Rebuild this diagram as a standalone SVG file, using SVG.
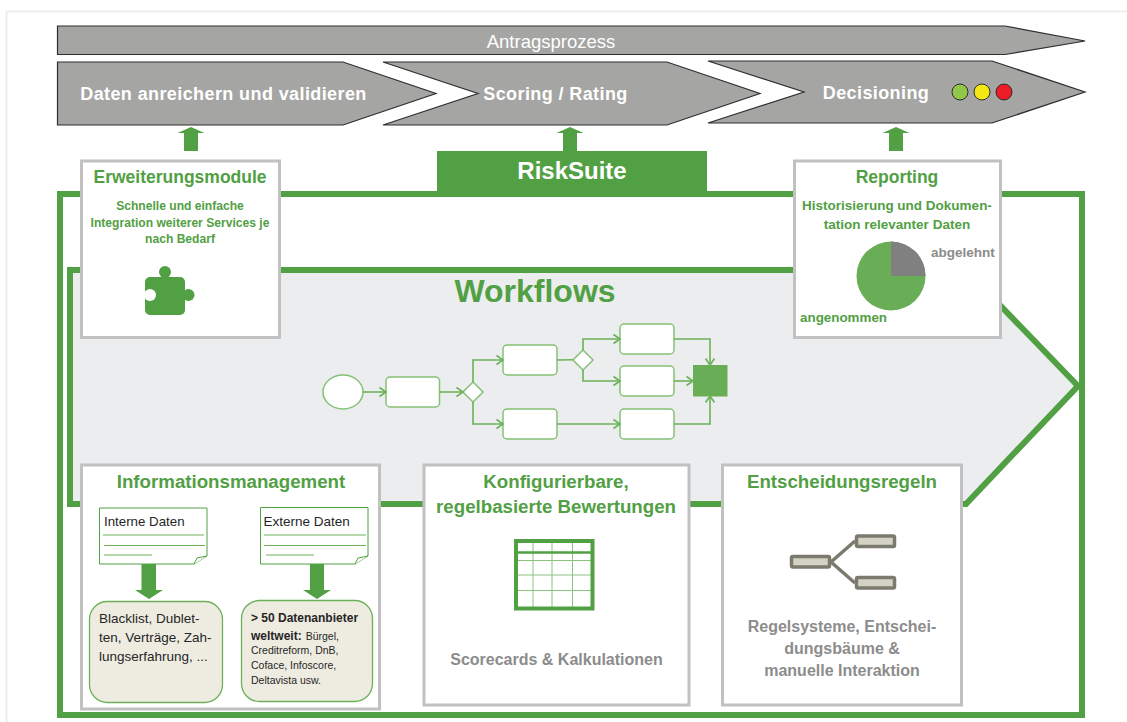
<svg xmlns="http://www.w3.org/2000/svg" width="1127" height="722" viewBox="0 0 1127 722">
<style>
text{font-family:"Liberation Sans",Arial,sans-serif}
.b{font-weight:bold}
.m{text-anchor:middle}
.g{fill:#52a044}
.gy{fill:#8c8c8c}
.chev{fill:#a5a5a3;stroke:#2e2e2e;stroke-width:1.2}
.w{fill:#fff}
.card{fill:#fff;stroke:#c1c1c1;stroke-width:3}
.t{font-size:17.5px;font-weight:bold;fill:#52a044;text-anchor:middle}
.t2{font-size:18.7px;font-weight:bold;fill:#52a044;text-anchor:middle}
.s{font-size:12.1px;font-weight:bold;fill:#52a044;text-anchor:middle}
.n{fill:#fff;stroke:#86c076;stroke-width:1.5}
.c{fill:none;stroke:#6cb15a;stroke-width:1.6}
.doc{fill:#fff;stroke:#52a044;stroke-width:1}
.dl{stroke:#6cb15a;stroke-width:1.2}
.box{fill:#eeece1;stroke:#6cb15a;stroke-width:1.3}
.tx{fill:#262626}
.tr{fill:#d4d2c5;stroke:#7b7a6f;stroke-width:3.5}
.tb{stroke:#8cc27e;stroke-width:1}
</style>
<defs>
<marker id="o" markerUnits="userSpaceOnUse" markerWidth="10" markerHeight="12" refX="8" refY="6" orient="auto"><path d="M1.5 1.5L8 6L1.5 10.500" fill="none" stroke="#6cb15a" stroke-width="1.600"/></marker>
<path id="up" d="M-13.500 6L0 0L13.500 6L7 6L7 24L-7 24L-7 6Z" fill="#52a044"/>
</defs>
<path d="M1127 11.500H6.500V722" fill="none" stroke="#eeeeee" stroke-width="2"/>

<g id="antragsprozess"><path class="chev" d="M57.500 26H1005L1085 41L1005 54.500H57.500Z"/><text x="551" y="48" class="m w" font-size="18.500">Antragsprozess</text></g>
<g id="daten"><path class="chev" d="M57.500 62H343L436 93.500L343 125H57.500Z"/><text x="223.500" y="100" class="b m w" font-size="18" letter-spacing="0.400">Daten anreichern und validieren</text></g>
<g id="scoring"><path class="chev" d="M383 62H667L760 93.500L667 125H383L478 93.500Z"/><text x="555.500" y="100" class="b m w" font-size="18" letter-spacing="0.400">Scoring / Rating</text></g>
<g id="decisioning"><path class="chev" d="M708 61H992L1085 92L992 123H708L804 92Z"/><text x="876" y="98.500" class="b m w" font-size="18" letter-spacing="0.400">Decisioning</text>
<circle cx="960" cy="92" r="8" fill="#92c74a" stroke="#2e2e2e"/><circle cx="982" cy="92" r="8" fill="#f5e812" stroke="#2e2e2e"/><circle cx="1004" cy="92" r="8" fill="#ee1c25" stroke="#2e2e2e"/></g>

<g id="frame"><rect x="60" y="194" width="1022" height="521" fill="#fff" stroke="#52a044" stroke-width="6"/>
<rect x="437" y="151" width="270" height="44" fill="#52a044"/><text x="572" y="179" class="b m w" font-size="24">RiskSuite</text></g>

<g id="workflows"><path d="M70 270H966L1078 386L966 504H70Z" fill="#ecedef" stroke="#52a044" stroke-width="6"/>
<text x="535" y="302" class="b m g" font-size="32">Workflows</text></g>

<g id="start"><ellipse class="n" cx="343" cy="392" rx="20" ry="17"/></g>
<g id="task1"><rect class="n" x="386" y="377" width="53.500" height="30" rx="4"/></g>
<g id="gate1"><path class="n" d="M473 382L483 392L473 402L463 392Z"/></g>
<g id="task2"><rect class="n" x="503" y="345" width="54" height="30" rx="4"/></g>
<g id="task3"><rect class="n" x="503" y="409" width="54" height="30" rx="4"/></g>
<g id="gate2"><path class="n" d="M583 350L593 360L583 370L573 360Z"/></g>
<g id="task4"><rect class="n" x="620" y="324" width="54" height="30" rx="4"/></g>
<g id="task5"><rect class="n" x="620" y="366" width="54" height="30" rx="4"/></g>
<g id="task6"><rect class="n" x="620" y="409" width="54" height="30" rx="4"/></g>
<g id="end"><rect x="693" y="365" width="34.500" height="31.500" fill="#6aad57"/></g>

<g id="erweiterungsmodule"><rect class="card" x="81.500" y="161" width="198" height="176.500"/>
<text x="180" y="183" class="t">Erweiterungsmodule</text>
<text x="180" y="210" class="s">Schnelle und einfache</text><text x="180" y="227" class="s">Integration weiterer Services je</text><text x="180" y="243" class="s">nach Bedarf</text>
<rect class="g" x="145" y="277" width="40" height="38" rx="5"/><circle class="g" cx="165" cy="272" r="6"/><circle class="g" cx="188.500" cy="295" r="6"/><circle class="w" cx="150" cy="295" r="6"/></g>

<g id="reporting"><rect class="card" x="794.500" y="161" width="206" height="176.500"/>
<text x="897" y="183" class="t">Reporting</text>
<text x="897" y="210" font-size="13.500" class="b m g">Historisierung und Dokumen-</text><text x="897" y="229" font-size="13.500" class="b m g">tation relevanter Daten</text>
<circle cx="891" cy="276" r="34.500" fill="#6aad57"/><path d="M891 276V241.500A34.500 34.500 0 0 1 925.500 276Z" fill="#808080"/>
<text x="931" y="257" class="b gy" font-size="13.500">abgelehnt</text><text x="800" y="322" class="b g" font-size="13.400">angenommen</text></g>

<g id="informationsmanagement"><rect class="card" x="81.500" y="465" width="298" height="244"/>
<text x="231" y="488" class="t2">Informationsmanagement</text>
<path class="doc" d="M99.500 508H207V556L194 564H99.500Z"/><path class="doc" d="M194 564L197 558L207 556"/>
<text x="104" y="526" class="tx" font-size="13.300">Interne Daten</text>
<path class="dl" d="M103 535H204M104 545.500H205M104 555H152"/>
<path class="doc" d="M260.500 507.500H368V556L355 564H260.500Z"/><path class="doc" d="M355 564L358 558L368 556"/>
<text x="263.500" y="526" class="tx" font-size="13.500">Externe Daten</text>
<path class="dl" d="M264 535H366M264 545.500H366M266 555H314"/>
<rect class="box" x="89.500" y="601.500" width="133" height="101" rx="18"/>
<text class="tx" font-size="13.500"><tspan x="99" y="623">Blacklist, Dublet-</tspan><tspan x="99" y="642">ten, Verträge, Zah-</tspan><tspan x="99" y="661">lungserfahrung, ...</tspan></text>
<rect class="box" x="241.500" y="600.500" width="131" height="101" rx="18"/>
<text class="tx" font-size="11"><tspan x="251" y="622" class="b" font-size="12">&gt; 50 Datenanbieter</tspan><tspan x="251" y="640" class="b" font-size="12">weltweit:</tspan><tspan dx="4" font-size="10.500">Bürgel,</tspan><tspan x="251" y="654" font-size="10.500">Creditreform, DnB,</tspan><tspan x="251" y="669" font-size="10.500">Coface, Infoscore,</tspan><tspan x="251" y="684" font-size="10.500">Deltavista usw.</tspan></text></g>

<g id="konfigurierbar"><rect class="card" x="424" y="465" width="265" height="240"/>
<text x="556" y="488" class="t2">Konfigurierbare,</text><text x="556" y="513" class="t2">regelbasierte Bewertungen</text>
<path class="tb" d="M516 560.500H592M516 575H592M516 590.500H592M533 541V608M552 541V608M572.500 541V608"/>
<path d="M516 552.500H592" stroke="#52a044" stroke-width="2.500"/>
<rect x="516" y="541" width="76.500" height="67.500" fill="none" stroke="#52a044" stroke-width="4"/>
<text x="556.500" y="665" class="b m gy" font-size="16">Scorecards &amp; Kalkulationen</text></g>

<g id="entscheidungsregeln"><rect class="card" x="722.500" y="465" width="239" height="240"/>
<text x="842" y="488" class="t2">Entscheidungsregeln</text>
<path d="M831 562L855 541M831 562L855 583" fill="none" stroke="#7b7a6f" stroke-width="3.500"/>
<rect class="tr" x="791.500" y="556.500" width="38" height="10.500" rx="1.500"/><rect class="tr" x="856.500" y="536" width="38" height="10.500" rx="1.500"/><rect class="tr" x="856.500" y="577.500" width="38" height="10.500" rx="1.500"/>
<text class="b m gy" font-size="16"><tspan x="842" y="632">Regelsysteme, Entschei-</tspan><tspan x="842" y="654">dungsbäume &amp;</tspan><tspan x="842" y="676">manuelle Interaktion</tspan></text></g>

<g id="connectors">
<path class="c" marker-end="url(#o)" d="M363 392H386"/>
<path class="c" marker-end="url(#o)" d="M439.500 392H463"/>
<path class="c" marker-end="url(#o)" d="M473 382V360H503"/>
<path class="c" marker-end="url(#o)" d="M473 402V424H503"/>
<path class="c" d="M557 360L573 359.700"/>
<path class="c" marker-end="url(#o)" d="M583 350V339H620"/>
<path class="c" marker-end="url(#o)" d="M583 370V381H620"/>
<path class="c" marker-end="url(#o)" d="M557 424H620"/>
<path class="c" marker-end="url(#o)" d="M674 339H710V365"/>
<path class="c" marker-end="url(#o)" d="M674 381H693"/>
<path class="c" marker-end="url(#o)" d="M674 424H710V396"/>
<use href="#up" x="191" y="127"/>
<use href="#up" x="570" y="127"/>
<use href="#up" x="896" y="127"/>
<path class="g" d="M141.500 564H156V590H163L149 599L135 590H141.500Z"/>
<path class="g" d="M310 564H324V590H331L317 599L303 590H310Z"/>
</g>
</svg>
